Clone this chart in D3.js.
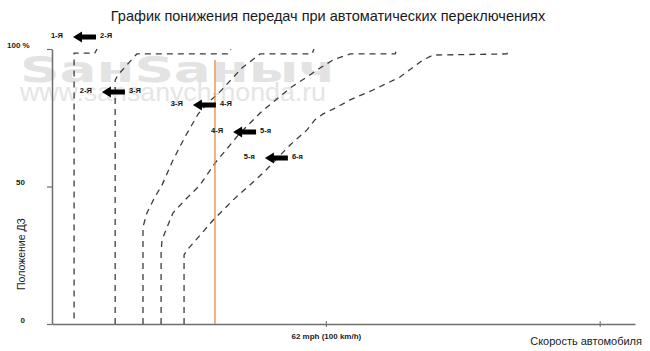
<!DOCTYPE html>
<html><head><meta charset="utf-8">
<script src="https://cdn.jsdelivr.net/npm/d3@7"></script>
<style>body{margin:0;background:#fff}svg{display:block}</style>
</head><body>
<svg id="c" width="650" height="351"></svg>
<script>
// ---- data ----
const chartTitle = "График понижения передач при автоматических переключениях";
const yTitle = "Положение ДЗ";
const xTitle = "Скорость автомобиля";
const yTicks = [0, 50, 100];
const yTickLabels = ["0", "50", "100 %"];
const xTicks = [62, 124];
const xTickLabels = ["62 mph (100 km/h)", ""];
// downshift lines: [speed (mph), throttle (%)]
const line12 = [[5.0,2],[5.0,98.5],[9.7,98.5],[10.2,100]];
const line23 = [[14.3,0],[14.3,88.7],[14.9,90.5],[19.2,98.2],[39.8,98.2],[40.5,100]];
const line34 = [[20.6,0],[20.6,35.3],[21.5,40.4],[23.3,46.2],[24.9,50.5],[27.4,59.6],[30.1,68.0],[33.1,76.4],[35.3,80.4],[38.0,84.4],[43.0,93.1],[47.1,98.2],[58.9,98.2],[59.3,100]];
const line45 = [[24.7,0],[24.7,25.8],[24.9,30.5],[25.8,34.2],[27.4,40.4],[30.1,45.1],[33.5,50.5],[36.9,58.5],[42.6,69.5],[47.1,76.7],[53.9,85.8],[57.7,89.8],[60.7,93.1],[63.6,96.0],[67.5,98.2],[77.7,98.2],[78.1,100]];
const line56 = [[29.9,0],[29.9,25.1],[30.6,26.9],[36.5,37.8],[41.0,45.1],[47.8,54.9],[53.9,65.1],[57.7,70.5],[59.5,74.2],[61.4,76.4],[64.1,78.5],[67.5,81.5],[72.7,85.1],[78.8,89.8],[84.0,96.0],[86.3,97.8],[103.0,98.2],[103.5,100]];
const shiftLines = [line12, line23, line34, line45, line56];
const markSpeed = 36.9, markTop = 96;
const arrows = [
  {from:"1-Я", to:"2-Я", s:4.75, t:104.4},
  {from:"2-Я", to:"3-Я", s:11.3, t:84.4},
  {from:"3-Я", to:"4-Я", s:31.9, t:79.6},
  {from:"4-Я", to:"5-я", s:41.0, t:69.8},
  {from:"5-я", to:"6-я", s:48.2, t:60.4}
];
const watermark1 = "SанSаныч";
const watermark2 = "www.sansanych-honda.ru";

// ---- chart ----
const svg = d3.select("#c");
const x = d3.scaleLinear().domain([0, 132]).range([52, 635]);
const y = d3.scaleLinear().domain([0, 100]).range([324, 49]);

// watermark (faint background)
svg.append("text").attr("x", 20).attr("y", 82).attr("textLength", 316).attr("lengthAdjust","spacingAndGlyphs")
  .attr("font-family","DejaVu Sans").attr("font-weight","bold").attr("font-size", 36).attr("fill","#e3e3e3").text(watermark1);
svg.append("text").attr("x", 20).attr("y", 101).attr("textLength", 306).attr("lengthAdjust","spacingAndGlyphs")
  .attr("font-family","Liberation Sans").attr("font-size", 25).attr("fill","#e5e5e5").text(watermark2);

// title
svg.append("text").attr("x", 328).attr("y", 21).attr("text-anchor","middle")
  .attr("font-family","Liberation Sans, Arial").attr("font-size", 14.5).attr("fill","#1a1a1a").text(chartTitle);

// axes
const yAxis = d3.axisLeft(y).tickValues(yTicks).tickSizeInner(5).tickSizeOuter(0)
  .tickFormat((d,i) => yTickLabels[i]);
const gy = svg.append("g").attr("transform", `translate(${x(0)},0)`).call(yAxis);
gy.select(".domain").attr("stroke","#6e6e6e").attr("stroke-width",1.5);
gy.selectAll(".tick line").attr("stroke","#6e6e6e").attr("stroke-width",1.2);
gy.selectAll(".tick text").attr("font-family","Liberation Sans, Arial").attr("font-weight","bold")
  .attr("font-size", 8).attr("fill","#222").attr("x", d => d===100 ? -45 : -27).attr("dy","-0.2em")
  .attr("text-anchor", d => d===100 ? "start" : "end");

const xAxis = d3.axisBottom(x).tickValues(xTicks).tickSizeInner(3).tickSizeOuter(0)
  .tickFormat((d,i) => xTickLabels[i]);
const gx = svg.append("g").attr("transform", `translate(0,${y(0)})`).call(xAxis);
gx.select(".domain").attr("stroke","#6e6e6e").attr("stroke-width",1.5);
gx.selectAll(".tick line").attr("stroke","#6e6e6e").attr("stroke-width",1).attr("y1",-3).attr("y2",3);
gx.selectAll(".tick text").attr("font-family","Liberation Sans, Arial").attr("font-weight","bold")
  .attr("font-size", 8).attr("fill","#222").attr("y", 9);

// axis titles
svg.append("text").attr("transform", `translate(25,254) rotate(-90)`).attr("text-anchor","middle")
  .attr("font-family","Liberation Sans, Arial").attr("font-size", 10.5).attr("fill","#222").text(yTitle);
svg.append("text").attr("x", 642).attr("y", 345).attr("text-anchor","end")
  .attr("font-family","Liberation Sans, Arial").attr("font-size", 11).attr("fill","#222").text(xTitle);

// shift lines
const lineGen = d3.line().x(d => x(d[0])).y(d => y(d[1]));
svg.append("g").selectAll("path").data(shiftLines).join("path")
  .attr("d", lineGen).attr("fill","none").attr("stroke","#3c3c3c").attr("stroke-width",1.3)
  .attr("stroke-dasharray","6,5");

// orange marker line
svg.append("line").attr("x1", x(markSpeed)).attr("x2", x(markSpeed)).attr("y1", y(0)).attr("y2", y(markTop))
  .attr("stroke","#e8893f").attr("stroke-width",1.3);

// arrows
const ag = svg.append("g").selectAll("g").data(arrows).join("g")
  .attr("transform", d => `translate(${x(d.s)},${y(d.t)})`);
ag.append("path").attr("d","M0,0 L9,-5.5 L9,-2.5 L23,-2.5 L23,2.5 L9,2.5 L9,5.5 Z").attr("fill","#000");
ag.append("text").attr("x",-10).attr("y",-1).attr("text-anchor","end").attr("dominant-baseline","middle")
  .attr("font-family","Liberation Sans, Arial").attr("font-weight","bold").attr("font-size",7.5).attr("fill","#111").text(d => d.from);
ag.append("text").attr("x",27).attr("y",-1).attr("dominant-baseline","middle")
  .attr("font-family","Liberation Sans, Arial").attr("font-weight","bold").attr("font-size",7.5).attr("fill","#111").text(d => d.to);
</script>
</body></html>
